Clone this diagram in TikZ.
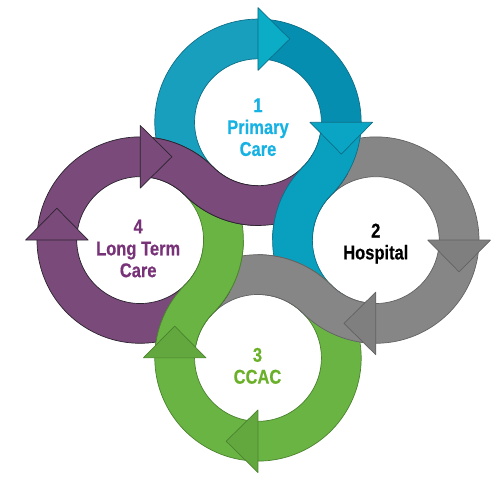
\documentclass[tikz,border=0pt]{standalone}
\usepackage{fontspec}
\newfontfamily\ringfont{Liberation Sans}[UprightFont=* Bold, FakeStretch=0.83, FakeBold=0.4]
% ring sizes: centre offset, inner/outer/middle radius
\def\dd{118.5}
\def\ri{63.8}
\def\ro{103.8}
\def\rmid{83.8}
\definecolor{blueA}{RGB}{25,159,190}
\definecolor{blueB}{RGB}{6,142,176}
\definecolor{blueC}{RGB}{9,160,192}
\definecolor{blueH}{RGB}{10,172,198}
\definecolor{blueK}{RGB}{10,165,196}
\definecolor{blueL}{RGB}{12,110,135}
\definecolor{grayA}{RGB}{135,134,134}
\colorlet{grayB}{grayA}
\colorlet{grayC}{grayA}
\definecolor{grayH}{RGB}{128,127,127}
\colorlet{grayK}{grayH}
\definecolor{grayL}{RGB}{98,98,98}
\definecolor{greenA}{RGB}{106,180,68}
\colorlet{greenB}{greenA}
\colorlet{greenC}{greenA}
\definecolor{greenH}{RGB}{99,168,63}
\colorlet{greenK}{greenH}
\definecolor{greenL}{RGB}{74,130,46}
\definecolor{purpleA}{RGB}{122,74,122}
\colorlet{purpleB}{purpleA}
\colorlet{purpleC}{purpleA}
\colorlet{purpleH}{purpleA}
\colorlet{purpleK}{purpleA}
\definecolor{purpleL}{RGB}{42,36,46}
\definecolor{primtext}{RGB}{22,178,228}
\definecolor{ccactext}{RGB}{106,176,40}
\definecolor{ltctext}{RGB}{120,50,120}
\tikzstyle{band}=[line width=0.7pt, line join=round]
\tikzstyle{ringtext}=[font=\ringfont\fontsize{20}{22}\selectfont, align=center]
\tikzset{
  own arc/.style 2 args={insert path={([shift={(0,\dd)}]#1:\ro)
    arc[start angle=#1, end angle=#2, radius=\ro]
    -- ([shift={(0,\dd)}]#2:\ri) arc[start angle=#2, end angle=#1, radius=\ri] -- cycle}},
  s arc/.style 2 args={insert path={([shift={(0,\dd)}]#1:\ro)
    arc[start angle=#1, end angle=-45, radius=\ro]
    arc[start angle=135, end angle=#2, radius=\ri]
    -- ([shift={(\dd,0)}]#2:\ro) arc[start angle=#2, end angle=135, radius=\ro]
    arc[start angle=-45, end angle=#1, radius=\ri] -- cycle}},
  s edge/.style 2 args={insert path={([shift={(0,\dd)}]#1:\ro)
    arc[start angle=#1, end angle=-45, radius=\ro]
    arc[start angle=135, end angle=#2, radius=\ri]
    ([shift={(0,\dd)}]#1:\ri) arc[start angle=#1, end angle=-45, radius=\ri]
    arc[start angle=135, end angle=#2, radius=\ro]}}
}

\begin{document}
\begin{tikzpicture}[x=1pt, y=1pt]
  \fill[white] (0,0) rectangle (494,478);
  \coordinate (M) at (259.5,236.5);
  % Bands
  \foreach \rot/\col in {0/blue,-90/gray,-180/green,-270/purple} {
    \begin{scope}[shift={(M)}, rotate=\rot]
      \fill[\col A, own arc={240}{90}];
      \fill[\col B, own arc={90}{0}];
      \fill[\col C, s arc={0}{240}];
      \draw[band, \col L, s edge={240}{240}];
    \end{scope}
  }
  % S-bends over the next band
  \foreach \rot/\col in {0/blue,-90/gray,-180/green,-270/purple} {
    \begin{scope}[shift={(M)}, rotate=\rot]
      \fill[\col C, s arc={0}{180}];
      \draw[band, \col L, s edge={0}{180}];
    \end{scope}
  }
  % Arrow heads
  \foreach \rot/\col in {0/blue,-90/gray,-180/green,-270/purple} {
    \begin{scope}[shift={(M)}, rotate=\rot]
      \foreach \a/\h in {90/H,0/K}
        \filldraw[band, fill=\col\h, draw=\col L, shift={(0,\dd)}, rotate=\a]
          (\rmid-31.5,0) -- (\rmid+31.5,0) -- (\rmid,-32) -- cycle;
    \end{scope}
  }
  % Labels
  \node[ringtext, text=primtext] (primary) at (259.5,350) {1\\Primary\\Care};
  \node[ringtext, text=black] (hospital) at (378,233) {2\\Hospital};
  \node[ringtext, text=ccactext] (ccac) at (259,110) {3\\CCAC};
  \node[ringtext, text=ltctext] (longterm) at (139,228) {4\\Long Term\\Care};
\end{tikzpicture}
\end{document}
